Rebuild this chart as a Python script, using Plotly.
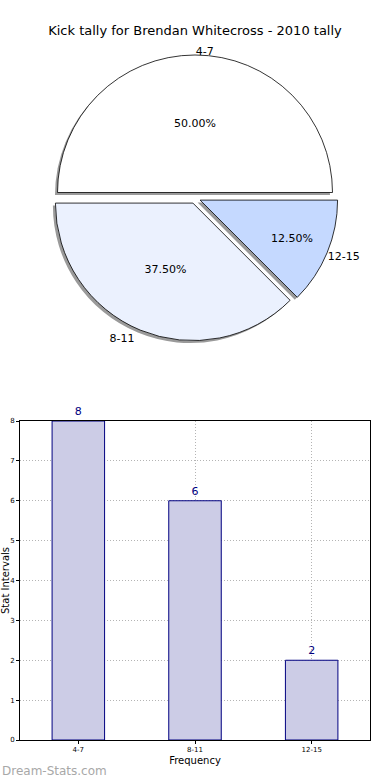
import plotly.graph_objects as go

title = "Kick tally for Brendan Whitecross - 2010 tally"
categories = ["4-7", "8-11", "12-15"]
counts = [8, 6, 2]
pie_colors = ["#ffffff", "#ebf1fe", "#c5d9ff"]
pull = [0.04, 0.04, 0.04]

W, H = 390, 780
FONT = "DejaVu Sans"

def px_x(x):
    return x / W

def px_y(y):
    return 1 - y / H

# pie geometry (pixels)
cx, cy, half = 195, 198, 143
sh = 2.5  # shadow offset

fig = go.Figure()

# shadow pie (also carries outside labels)
fig.add_trace(go.Pie(
    labels=categories, values=counts, sort=False, direction="counterclockwise",
    rotation=-90, pull=pull,
    marker=dict(colors=["#9a9a9a"] * 3, line=dict(width=0)),
    texttemplate="%{label}", textposition="outside",
    textfont=dict(family=FONT, size=11, color="#000000"),
    domain=dict(x=[px_x(cx - half - sh), px_x(cx + half - sh)],
                y=[px_y(cy + half + sh), px_y(cy - half + sh)]),
    showlegend=False, hoverinfo="skip",
))

# main pie
fig.add_trace(go.Pie(
    labels=categories, values=counts, sort=False, direction="counterclockwise",
    rotation=-90, pull=pull,
    marker=dict(colors=pie_colors, line=dict(color="#000000", width=0.8)),
    texttemplate="%{percent:.2%}", textposition="inside",
    insidetextorientation="horizontal",
    textfont=dict(family=FONT, size=11, color="#000000"),
    domain=dict(x=[px_x(cx - half), px_x(cx + half)],
                y=[px_y(cy + half), px_y(cy - half)]),
    showlegend=False,
))

# bar chart
fig.add_trace(go.Bar(
    x=categories, y=counts, width=0.45,
    marker=dict(color="#ccccE6", line=dict(color="#000080", width=1)),
    texttemplate="%{y}", textposition="outside", cliponaxis=False,
    textfont=dict(family=FONT, size=11, color="#000080"),
    showlegend=False,
))

fig.update_layout(
    width=W, height=H,
    margin=dict(l=0, r=0, t=0, b=0),
    paper_bgcolor="#ffffff", plot_bgcolor="#ffffff",
    font=dict(family=FONT, color="#000000"),
    title=dict(text=title, x=0.5, xanchor="center", y=px_y(30), yanchor="middle",
               font=dict(family=FONT, size=13, color="#000000")),
    xaxis=dict(
        domain=[px_x(20), px_x(370)], range=[-0.5, 2.5],
        showline=True, linecolor="#000000", linewidth=1, mirror=True,
        showgrid=True, gridcolor="#b4b4b4", griddash="1px,2px", gridwidth=1,
        ticks="outside", ticklen=3, tickcolor="#000000",
        tickfont=dict(family=FONT, size=7, color="#000000"),
        title=dict(text="Frequency", font=dict(family=FONT, size=10, color="#000000"), standoff=3),
        automargin=False, zeroline=False,
    ),
    yaxis=dict(
        domain=[px_y(740), px_y(421)], range=[0, 8], dtick=1,
        showline=True, linecolor="#000000", linewidth=1, mirror=True,
        showgrid=True, gridcolor="#b4b4b4", griddash="1px,2px", gridwidth=1,
        ticks="outside", ticklen=3, tickcolor="#000000",
        tickfont=dict(family=FONT, size=7, color="#000000"),
        title=dict(text="Stat Intervals", font=dict(family=FONT, size=10, color="#000000"), standoff=0),
        automargin=False, zeroline=False,
    ),
    annotations=[dict(
        text="Dream-Stats.com", x=0, xref="paper", xanchor="left",
        y=px_y(771), yref="paper", yanchor="middle", showarrow=False,
        font=dict(family=FONT, size=12, color="#a8a8a8"),
    )],
)

fig.write_html("out.html", config={"displayModeBar": False},
               post_script="document.body.style.margin='0';document.body.style.overflow='hidden';")
